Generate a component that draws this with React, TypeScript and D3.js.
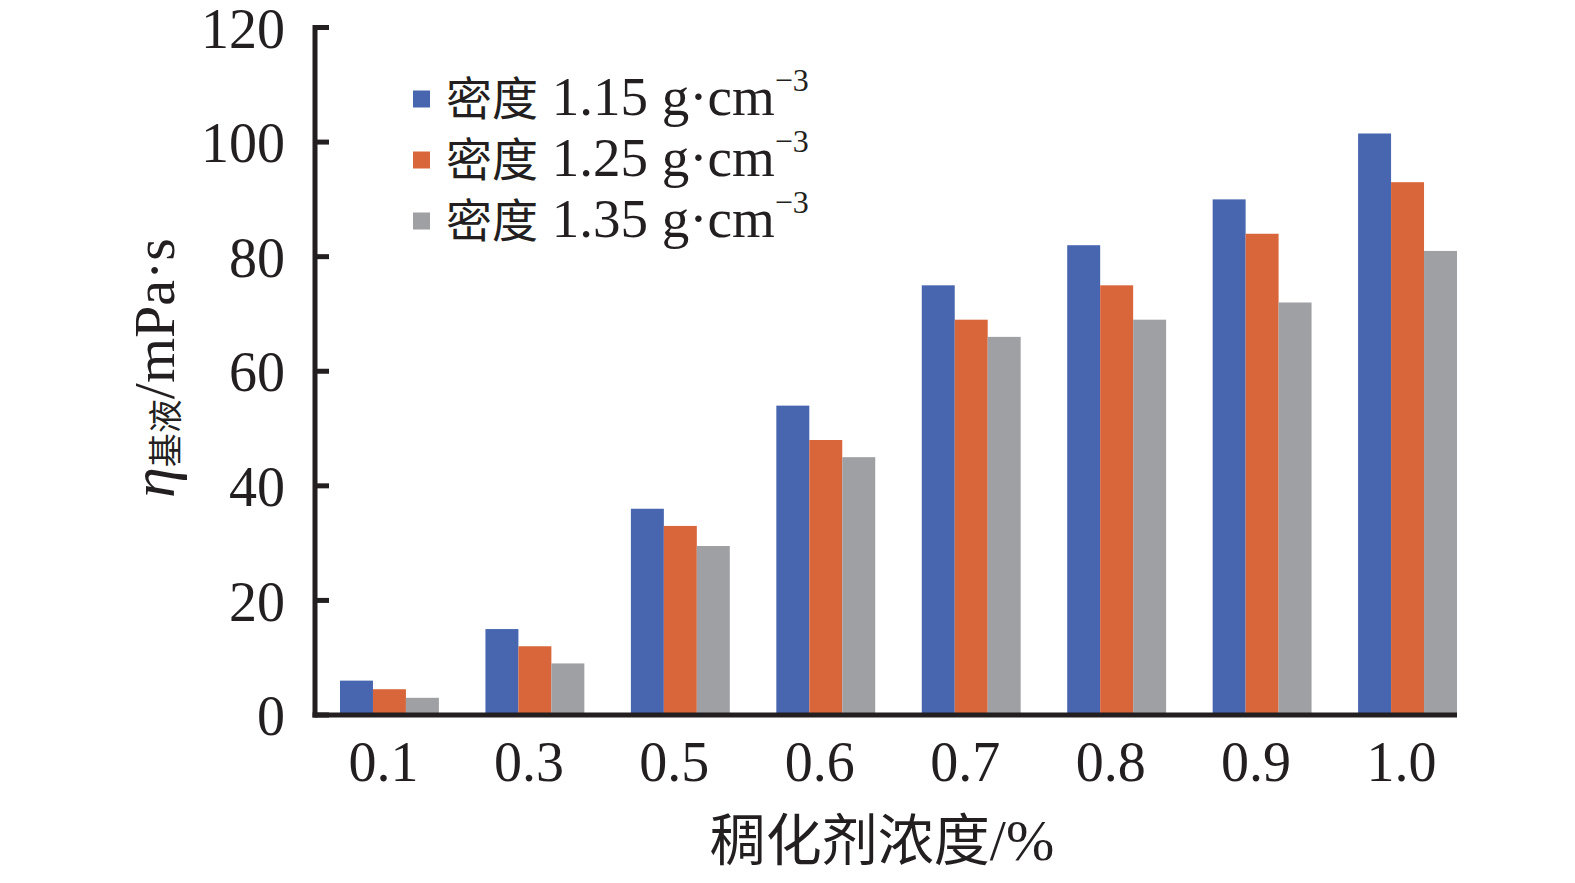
import React from "react";
import * as d3 from "d3";

const categories = ["0.1", "0.3", "0.5", "0.6", "0.7", "0.8", "0.9", "1.0"];
const seriesNames = ["1.15", "1.25", "1.35"];
const density115 = [6, 15, 36, 54, 75, 82, 90, 101.5];
const density125 = [4.5, 12, 33, 48, 69, 75, 84, 93];
const density135 = [3, 9, 29.5, 45, 66, 69, 72, 81];
const yTicks = [0, 20, 40, 60, 80, 100, 120];
const colors = ["#4866b0", "#d8663a", "#9fa0a4"];

const serif = "'Liberation Serif', 'Times New Roman', serif";
const cjk = "'Noto Sans CJK SC', sans-serif";

const App = () => {
  const width = 1575;
  const height = 883;
  const axisLeft = 315;
  const axisBottom = 715;
  const axisTop = 27.5;

  const series = [density115, density125, density135];

  const x0 = d3
    .scaleBand()
    .domain(categories)
    .range([340, 1457])
    .paddingInner(0.32)
    .paddingOuter(0);

  const x1 = d3
    .scaleBand()
    .domain(seriesNames)
    .range([0, x0.bandwidth()])
    .padding(0);

  const y = d3.scaleLinear().domain([0, 120]).range([axisBottom, axisTop]);

  return (
    <svg
      width={width}
      height={height}
      style={{ position: "absolute", left: 0, top: 0, background: "#fff" }}
    >
      {/* bars */}
      {categories.map((c, i) => (
        <g key={c} transform={`translate(${x0(c)},0)`}>
          {series.map((s, j) => (
            <rect
              key={j}
              x={x1(seriesNames[j])}
              y={y(s[i])}
              width={x1.bandwidth()}
              height={axisBottom - y(s[i])}
              fill={colors[j]}
            />
          ))}
        </g>
      ))}

      {/* y axis */}
      <line x1={axisLeft} x2={axisLeft} y1={axisTop - 2.5} y2={axisBottom + 2.5} stroke="#231f20" strokeWidth={5} />
      {yTicks.map((t) => (
        <g key={t}>
          <line x1={axisLeft} x2={329} y1={y(t)} y2={y(t)} stroke="#231f20" strokeWidth={5} />
          <text
            x={285}
            y={y(t)}
            dy="0.36em"
            textAnchor="end"
            fontFamily={serif}
            fontSize={56}
            fill="#231f20"
          >
            {t}
          </text>
        </g>
      ))}

      {/* x axis */}
      <line x1={axisLeft - 2.5} x2={1457} y1={axisBottom} y2={axisBottom} stroke="#231f20" strokeWidth={5} />
      {categories.map((c) => (
        <text
          key={c}
          x={(x0(c) as number) + x0.bandwidth() / 2 - 6}
          y={781}
          textAnchor="middle"
          fontFamily={serif}
          fontSize={56}
          fill="#231f20"
        >
          {c}
        </text>
      ))}

      {/* legend */}
      {seriesNames.map((n, j) => (
        <g key={n} transform={`translate(413, ${99 + j * 61})`}>
          <rect x={0} y={-8.5} width={17} height={17} fill={colors[j]} />
          <text x={33} y={16} fill="#231f20">
            <tspan fontFamily={cjk} fontSize={46}>密度</tspan>
            <tspan fontFamily={serif} fontSize={55}> {n} g·cm</tspan>
            <tspan fontFamily={serif} fontSize={32} dy={-24}>−3</tspan>
          </text>
        </g>
      ))}

      {/* y title */}
      <text
        transform="translate(174, 368) rotate(-90)"
        textAnchor="middle"
        fill="#231f20"
      >
        <tspan fontFamily={serif} fontStyle="italic" fontSize={62}>η</tspan>
        <tspan fontFamily={cjk} fontSize={34} dy={4}>基液</tspan>
        <tspan fontFamily={serif} fontSize={58} dy={-4}>/mPa·s</tspan>
      </text>

      {/* x title */}
      <text x={882} y={860} textAnchor="middle" fill="#231f20">
        <tspan fontFamily={cjk} fontSize={56}>稠化剂浓度</tspan>
        <tspan fontFamily={serif} fontSize={58}>/%</tspan>
      </text>
    </svg>
  );
};

export default App;
